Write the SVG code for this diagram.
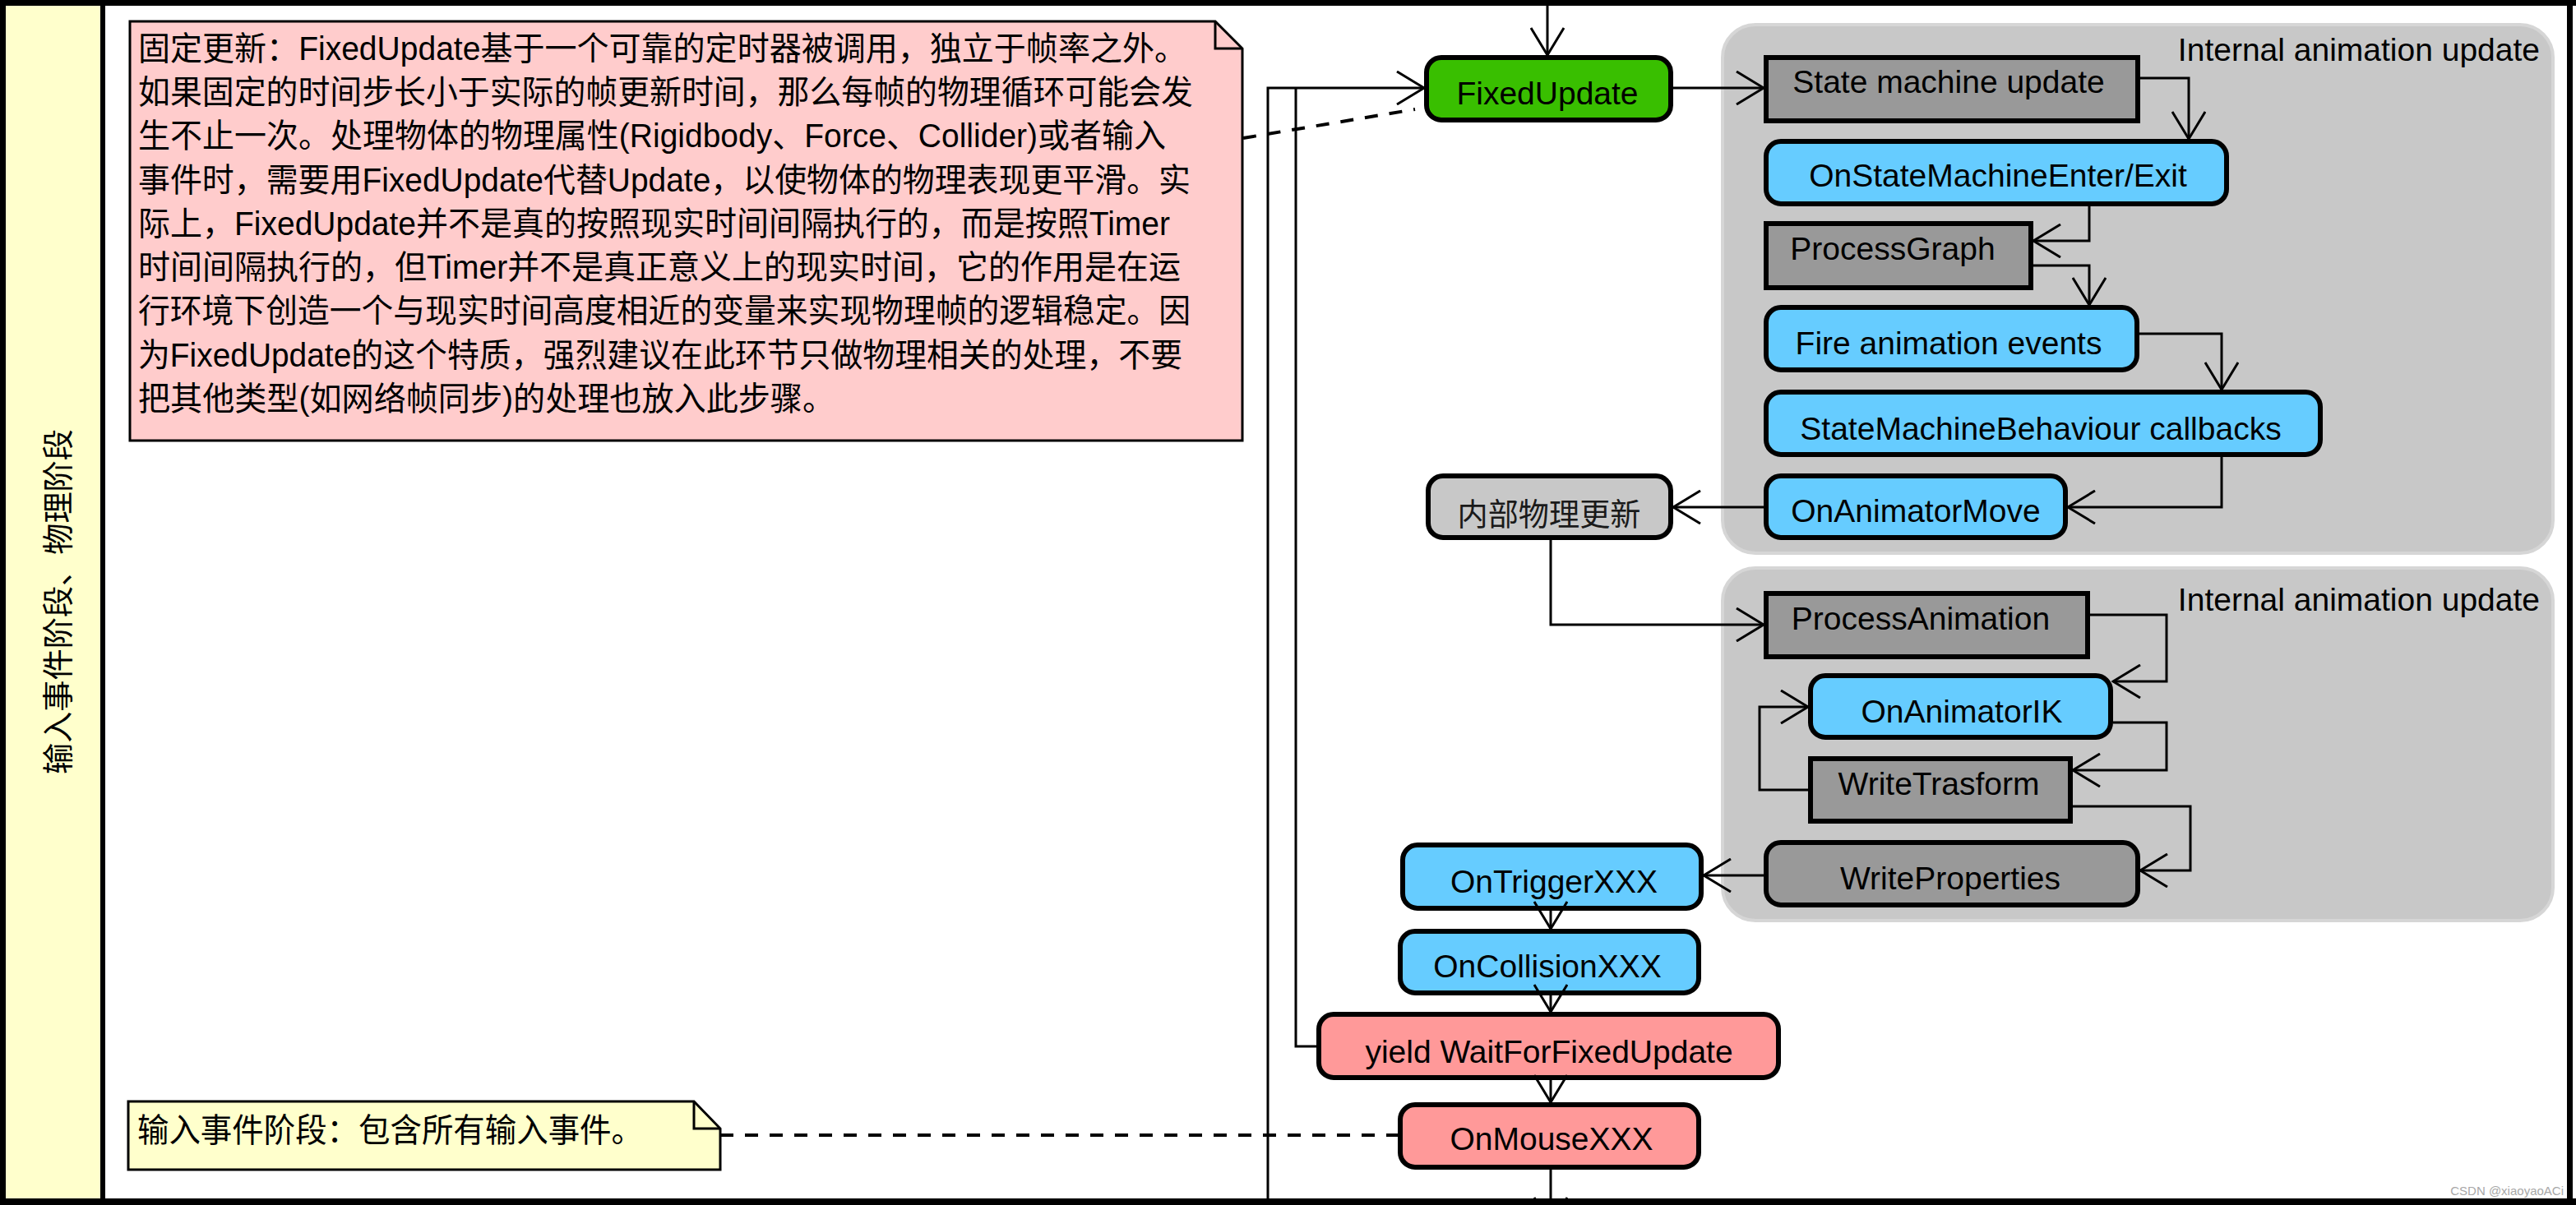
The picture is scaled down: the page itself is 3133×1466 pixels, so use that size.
<svg xmlns="http://www.w3.org/2000/svg" width="3133" height="1466" viewBox="0 0 3133 1466">
<style>
  text { font-family: "Liberation Sans", "Noto Sans CJK SC", sans-serif; fill: #000; }
  .lbl { font-size: 39px; text-anchor: middle; }
  .note { font-size: 40px; }
  .grp { fill: #C8C8C8; stroke: #D6D6D6; stroke-width: 4; }
  .grpt { font-size: 39px; text-anchor: end; }
  .rnd { stroke: #000; stroke-width: 6; }
  .sq { fill: #999999; stroke: #000; stroke-width: 6; }
  .blue { fill: #66CCFF; }
  .gray { fill: #999999; }
  .green { fill: #39BF00; }
  .pink { fill: #FF9999; }
  .lgray { fill: #C8C8C8; }
  .conn { fill: none; stroke: #000; stroke-width: 3; }
  .dash { fill: none; stroke: #000; stroke-width: 4; stroke-dasharray: 16 14; }
</style>
<defs>
  <marker id="arr" viewBox="0 0 36 42" refX="34" refY="21" markerWidth="36" markerHeight="42" markerUnits="userSpaceOnUse" orient="auto">
    <path d="M1,1 L34,21 L1,41" fill="none" stroke="#000" stroke-width="3"/>
  </marker>
</defs>

<!-- lane background -->
<rect x="0" y="0" width="3133" height="1466" fill="#FFFFFF"/>
<g id="lane">
  <rect x="4" y="0" width="121" height="1466" fill="#FFFFCC"/>
  <line x1="3.5" y1="0" x2="3.5" y2="1466" stroke="#000" stroke-width="7"/>
  <line x1="125" y1="0" x2="125" y2="1466" stroke="#000" stroke-width="6"/>
  <line x1="0" y1="3.5" x2="3133" y2="3.5" stroke="#000" stroke-width="7"/>
  <line x1="0" y1="1462" x2="3133" y2="1462" stroke="#000" stroke-width="8"/>
  <line x1="3125.5" y1="0" x2="3125.5" y2="1466" stroke="#000" stroke-width="7"/>
  <text transform="translate(84,732) rotate(-90)" style="font-size:38px;text-anchor:middle" textLength="420" lengthAdjust="spacingAndGlyphs">输入事件阶段、物理阶段</text>
</g>

<!-- groups -->
<g id="group-internal-1">
  <rect class="grp" x="2095" y="30" width="1010" height="643" rx="40"/>
  <text class="grpt" x="3089" y="74">Internal animation update</text>
</g>
<g id="group-internal-2">
  <rect class="grp" x="2095" y="691" width="1010" height="429" rx="40"/>
  <text class="grpt" x="3089" y="743">Internal animation update</text>
</g>

<!-- notes -->
<g id="note-fixed">
  <path d="M158,26 H1478 L1511,59 V536 H158 Z" fill="#FFCCCC" stroke="#000" stroke-width="3"/>
  <path d="M1478,26 V59 H1511" fill="none" stroke="#000" stroke-width="3"/>
  <text class="note" x="168" y="73" textLength="1275" lengthAdjust="spacingAndGlyphs">固定更新：FixedUpdate基于一个可靠的定时器被调用，独立于帧率之外。</text>
  <text class="note" x="168" y="126" textLength="1283" lengthAdjust="spacingAndGlyphs">如果固定的时间步长小于实际的帧更新时间，那么每帧的物理循环可能会发</text>
  <text class="note" x="168" y="179" textLength="1250" lengthAdjust="spacingAndGlyphs">生不止一次。处理物体的物理属性(Rigidbody、Force、Collider)或者输入</text>
  <text class="note" x="168" y="233" textLength="1280" lengthAdjust="spacingAndGlyphs">事件时，需要用FixedUpdate代替Update，以使物体的物理表现更平滑。实</text>
  <text class="note" x="168" y="286" textLength="1255" lengthAdjust="spacingAndGlyphs">际上，FixedUpdate并不是真的按照现实时间间隔执行的，而是按照Timer</text>
  <text class="note" x="168" y="339" textLength="1268" lengthAdjust="spacingAndGlyphs">时间间隔执行的，但Timer并不是真正意义上的现实时间，它的作用是在运</text>
  <text class="note" x="168" y="392" textLength="1280" lengthAdjust="spacingAndGlyphs">行环境下创造一个与现实时间高度相近的变量来实现物理帧的逻辑稳定。因</text>
  <text class="note" x="168" y="446" textLength="1270" lengthAdjust="spacingAndGlyphs">为FixedUpdate的这个特质，强烈建议在此环节只做物理相关的处理，不要</text>
  <text class="note" x="168" y="499" textLength="847" lengthAdjust="spacingAndGlyphs">把其他类型(如网络帧同步)的处理也放入此步骤。</text>
</g>
<g id="note-input">
  <path d="M156,1340 H844 L876,1373 V1423 H156 Z" fill="#FFFFCC" stroke="#000" stroke-width="3"/>
  <path d="M844,1340 V1373 H876" fill="none" stroke="#000" stroke-width="3"/>
  <text class="note" x="167" y="1389" textLength="615" lengthAdjust="spacingAndGlyphs">输入事件阶段：包含所有输入事件。</text>
</g>

<!-- nodes -->
<g id="FixedUpdate">
  <rect class="rnd green" x="1735" y="70" width="297" height="76" rx="18"/>
  <text class="lbl" x="1882" y="127">FixedUpdate</text>
</g>
<g id="StateMachineUpdate">
  <rect class="sq" x="2148" y="70" width="452" height="77"/>
  <text class="lbl" x="2370" y="113">State machine update</text>
</g>
<g id="OnStateMachineEnterExit">
  <rect class="rnd blue" x="2148" y="172" width="560" height="76" rx="18"/>
  <text class="lbl" x="2430" y="227">OnStateMachineEnter/Exit</text>
</g>
<g id="ProcessGraph">
  <rect class="sq" x="2148" y="272" width="322" height="78"/>
  <text class="lbl" x="2302" y="316">ProcessGraph</text>
</g>
<g id="FireAnimationEvents">
  <rect class="rnd blue" x="2148" y="374" width="451" height="76" rx="18"/>
  <text class="lbl" x="2370" y="431">Fire animation events</text>
</g>
<g id="StateMachineBehaviourCallbacks">
  <rect class="rnd blue" x="2148" y="477" width="674" height="76" rx="18"/>
  <text class="lbl" x="2482" y="535">StateMachineBehaviour callbacks</text>
</g>
<g id="OnAnimatorMove">
  <rect class="rnd blue" x="2148" y="579" width="364" height="75" rx="18"/>
  <text class="lbl" x="2330" y="635">OnAnimatorMove</text>
</g>
<g id="InternalPhysicsUpdate">
  <rect class="rnd lgray" x="1737" y="579" width="295" height="75" rx="18"/>
  <text class="lbl" x="1884" y="639" style="font-size:38px;fill:#1a1a1a" textLength="223" lengthAdjust="spacingAndGlyphs">内部物理更新</text>
</g>
<g id="ProcessAnimation">
  <rect class="sq" x="2148" y="722" width="391" height="77"/>
  <text class="lbl" x="2336" y="766">ProcessAnimation</text>
</g>
<g id="OnAnimatorIK">
  <rect class="rnd blue" x="2202" y="822" width="365" height="75" rx="18"/>
  <text class="lbl" x="2386" y="879">OnAnimatorIK</text>
</g>
<g id="WriteTrasform">
  <rect class="sq" x="2202" y="923" width="316" height="76"/>
  <text class="lbl" x="2358" y="967">WriteTrasform</text>
</g>
<g id="WriteProperties">
  <rect class="rnd gray" x="2148" y="1025" width="452" height="76" rx="18"/>
  <text class="lbl" x="2372" y="1082">WriteProperties</text>
</g>
<g id="OnTriggerXXX">
  <rect class="rnd blue" x="1706" y="1028" width="363" height="77" rx="18"/>
  <text class="lbl" x="1890" y="1086">OnTriggerXXX</text>
</g>
<g id="OnCollisionXXX">
  <rect class="rnd blue" x="1703" y="1133" width="363" height="75" rx="18"/>
  <text class="lbl" x="1882" y="1189">OnCollisionXXX</text>
</g>
<g id="YieldWaitForFixedUpdate">
  <rect class="rnd pink" x="1604" y="1234" width="559" height="77" rx="18"/>
  <text class="lbl" x="1884" y="1293">yield WaitForFixedUpdate</text>
</g>
<g id="OnMouseXXX">
  <rect class="rnd pink" x="1703" y="1344" width="363" height="76" rx="18"/>
  <text class="lbl" x="1887" y="1399">OnMouseXXX</text>
</g>

<!-- connectors -->
<g id="connectors">
  <path class="conn" d="M1882,0 V67" marker-end="url(#arr)"/>
  <path class="conn" d="M1542,1466 V107 H1732" marker-end="url(#arr)"/>
  <path class="conn" d="M1601,1273 H1576 V107"/>
  <path class="conn" d="M2035,107 H2145" marker-end="url(#arr)"/>
  <path class="conn" d="M2603,95 H2662 V169" marker-end="url(#arr)"/>
  <path class="conn" d="M2541,251 V293 H2473" marker-end="url(#arr)"/>
  <path class="conn" d="M2473,323 H2541 V371" marker-end="url(#arr)"/>
  <path class="conn" d="M2602,406 H2702 V474" marker-end="url(#arr)"/>
  <path class="conn" d="M2702,556 V617 H2515" marker-end="url(#arr)"/>
  <path class="conn" d="M2145,617 H2035" marker-end="url(#arr)"/>
  <path class="conn" d="M1886,657 V760 H2145" marker-end="url(#arr)"/>
  <path class="conn" d="M2542,748 H2635 V829 H2570" marker-end="url(#arr)"/>
  <path class="conn" d="M2570,879 H2635 V937 H2521" marker-end="url(#arr)"/>
  <path class="conn" d="M2199,961 H2140 V860 H2199" marker-end="url(#arr)"/>
  <path class="conn" d="M2521,981 H2664 V1059 H2603" marker-end="url(#arr)"/>
  <path class="conn" d="M2145,1065 H2072" marker-end="url(#arr)"/>
  <path class="conn" d="M1886,1108 V1130" marker-end="url(#arr)"/>
  <path class="conn" d="M1886,1211 V1231" marker-end="url(#arr)"/>
  <path class="conn" d="M1886,1314 V1341" marker-end="url(#arr)"/>
  <path class="conn" d="M1886,1423 V1490" marker-end="url(#arr)"/>
  <path class="dash" d="M1512,168 L1721,133"/>
  <path class="dash" d="M876,1381 H1700"/>
</g>

<text x="3118" y="1454" style="font-size:15px;text-anchor:end;fill:#A8A8A8">CSDN @xiaoyaoACi</text>
</svg>
